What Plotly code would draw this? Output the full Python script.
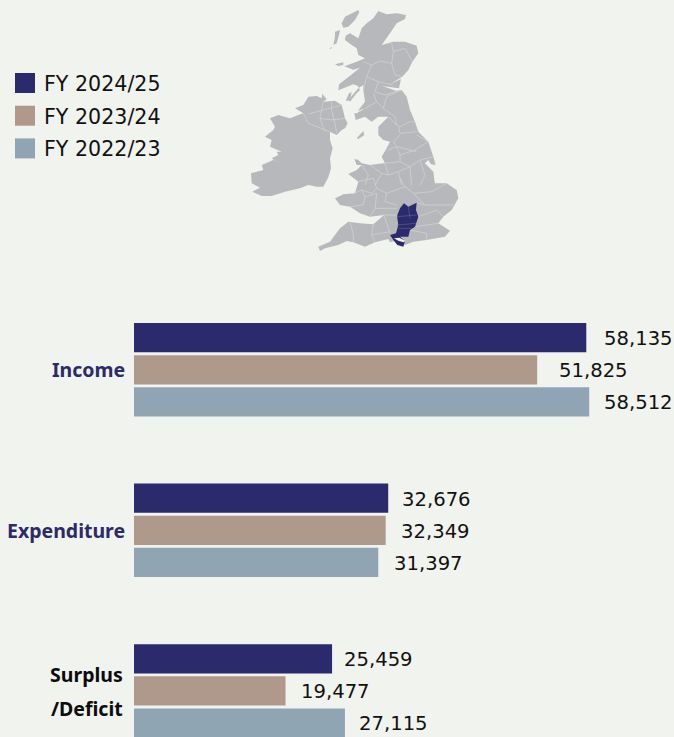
import plotly.graph_objects as go

# ---- data ----
CATEGORIES = ["Income", "Expenditure", "Surplus /Deficit"]
SERIES_NAMES = ["FY 2024/25", "FY 2023/24", "FY 2022/23"]
FY2425 = [58135, 32676, 25459]
FY2324 = [51825, 32349, 19477]
FY2223 = [58512, 31397, 27115]
SERIES_VALUES = [FY2425, FY2324, FY2223]

# ---- style ----
COLORS = ["#2b2a6c", "#ae998b", "#90a5b3"]
BG = "#f1f3ee"
MAP_GREY = "#b7b8bb"
MAP_LINE = "#d3d4d6"
W, H = 674, 737
VAL_FONT = "DejaVu Sans"
CAT_FONT = "Noto Sans"

# label offsets from bar end (px), one per series per category
LABEL_GAPS = [[16, 12, 10], [20, 13, 13], [13, 14, 12]]


# ---- decorative map outlines, traced in separate crop frames ----
def fa(pts):  # northern Scotland frame
    return [(325 + x / 3, 5 + y / 3) for x, y in pts]
def fb(pts):  # northern England frame
    return [(345 + x / 3, 85 + y / 3) for x, y in pts]
def fc(pts):  # Ireland frame
    return [(245 + x / 3, 90 + y / 3) for x, y in pts]
def fd(pts):  # southern Britain frame
    return [(310 + x / 3, 165 + y / 3) for x, y in pts]


IRELAND = fc([(150,55),(175,45),(190,20),(215,18),(230,25),(232,12),(245,28),(235,35),(270,32),(290,45),(300,85),(308,100),(300,115),(290,120),(275,135),(255,125),(255,150),(263,175),(255,205),(258,235),(250,262),(235,290),(215,290),(190,285),(165,295),(120,305),(80,318),(50,318),(22,305),(45,293),(20,280),(18,250),(55,240),(50,225),(85,210),(115,220),(90,212),(80,205),(100,195),(95,185),(110,185),(75,170),(80,150),(60,140),(85,120),(90,110),(75,85),(100,75),(135,85),(160,75),(175,70)])
BRITAIN = (
    fa([(160,18),(185,28),(215,25),(243,30),(240,42),(215,55),(195,85),(170,120),(205,110),(240,110),(275,122),(280,145),(262,170),(250,195),(232,215),(195,238),(228,222),(222,250),(172,243),(215,258)])
    + fb([(170,15),(185,35),(195,75),(210,110),(220,140),(250,170),(265,215),(272,240),(258,238),(250,225),(240,235),(265,260),(268,285)])
    + fd([(375,55),(410,55),(440,75),(445,100),(425,135),(400,155),(385,175),(420,197),(405,215),(350,225),(310,230),(285,240),(265,225),(240,232),(235,222),(195,232),(165,245),(130,232),(110,228),(85,240),(45,250),(30,258),(25,245),(60,230),(90,190),(115,170),(150,175),(190,178),(222,150),(180,155),(150,145),(120,125),(90,120),(75,100),(100,88),(135,85),(145,50),(115,27),(140,15)])
    + fb([(50,240),(35,240),(28,222),(40,225),(50,235),(75,240),(115,235),(120,235),(110,215),(125,190),(135,170),(115,165),(100,150),(100,125),(130,95),(100,95),(80,110),(60,95),(32,105),(28,85),(35,85),(60,70),(38,78),(60,50),(55,15)])
    + fa([(115,240),(100,250),(70,285),(75,290),(95,265),(105,255),(98,242),(85,238),(40,256),(42,238),(75,212),(105,188),(85,194),(58,184),(95,170),(120,160),(100,150),(95,130),(80,120),(60,105),(62,92),(75,85),(100,100),(105,85),(110,70),(125,55),(145,40)])
)
ISLANDS = [
    fa([(50,55),(60,35),(100,15),(103,22),(90,45),(70,65),(55,68)]),
    fa([(25,120),(30,95),(30,80),(45,75),(42,90),(35,115)]),
    fa([(12,133),(20,125),(20,130)]),
    fa([(30,178),(55,172),(55,180),(40,183)]),
    fb([(35,160),(55,138),(58,150),(40,162)]),
    fb([(2,48),(12,25),(20,22),(15,45)]),
]
NAVY_AREA = fd([(262,150),(270,130),(282,115),(295,125),(320,113),(318,135),(325,155),(315,185),(300,195),(295,215),(270,215),(285,228),(280,245),(262,240),(250,225),(240,210),(258,205),(265,180),(262,160)])
SOTON_WATER = fd([(252,220),(268,218),(287,228),(280,232),(265,227)])
NAVY_LINES = [fd(l) for l in [[(262,155),(320,150)],[(262,180),(318,175)],[(295,125),(300,160)],[(265,190),(305,190)]]]
COUNTY_LINES = (
    [fa(l) for l in [
        [(115,170),(140,180),(165,168),(200,175),(205,140),(200,115)],
        [(205,140),(240,130),(262,170)],[(200,175),(210,210),(230,215)],
        [(140,180),(125,215),(160,230),(205,240)],[(125,215),(115,255)],
        [(160,230),(150,260),(180,270),(225,255)],
    ]]
    + [fb(l) for l in [
        [(85,25),(95,50),(60,70)],[(95,50),(115,70),(125,35),(170,15)],[(115,70),(150,95),(155,120),(130,95)],
        [(155,120),(165,125),(195,110),(210,110)],[(160,125),(165,145),(215,140)],
        [(165,150),(145,170),(155,185),(215,200)],[(215,150),(250,170)],
        [(130,195),(155,185),(165,210),(210,195),(250,170)],[(165,210),(165,230),(120,235)],
        [(165,230),(195,245),(225,225),(265,215)],[(195,245),(200,300)],[(225,225),(240,270),(225,300)],
        [(120,235),(130,270),(160,260),(195,245)],[(130,270),(110,265),(75,240)],[(160,260),(170,300)],
        [(110,265),(90,300)],[(50,240),(70,270),(60,300)],
    ]]
    + [fc(l) for l in [
        [(175,70),(190,100),(240,120),(255,125)],[(235,35),(225,85),(240,125)],[(190,72),(235,60),(290,45)],
        [(225,85),(260,90),(300,85)],[(260,60),(270,100),(275,130)],[(260,35),(260,60)],
    ]]
    + [fd(l) for l in [
        [(130,85),(155,75),(165,95),(160,120),(120,125)],[(155,75),(185,85),(200,70),(190,40),(145,50)],
        [(200,70),(230,85),(225,110),(260,120)],[(230,85),(285,65),(270,40)],[(165,95),(200,85)],
        [(200,85),(195,130),(260,130)],[(195,130),(180,155)],[(215,150),(260,150)],
        [(285,65),(310,85),(365,80),(410,55)],[(310,85),(345,120),(430,120)],[(345,120),(320,113)],
        [(325,155),(380,135),(400,155)],[(315,185),(385,175)],[(300,195),(350,205),(350,225)],
        [(120,170),(130,210),(130,232)],[(190,178),(185,210),(195,232)],[(185,210),(240,200)],[(222,150),(240,205)],
    ]]
)


def path(points, closed=True):
    """SVG path in paper coordinates from pixel coordinates."""
    d = "M" + "L".join(f"{x / W:.5f},{1 - y / H:.5f}" for x, y in points)
    return d + ("Z" if closed else "")


shapes = []
for poly in [IRELAND, BRITAIN] + ISLANDS:
    shapes.append(dict(type="path", xref="paper", yref="paper", path=path(poly),
                       fillcolor=MAP_GREY, line=dict(width=0)))
for ln in COUNTY_LINES:
    shapes.append(dict(type="path", xref="paper", yref="paper", path=path(ln, False),
                       line=dict(color=MAP_LINE, width=0.7)))
shapes.append(dict(type="path", xref="paper", yref="paper", path=path(NAVY_AREA),
                   fillcolor=COLORS[0], line=dict(width=0)))
for ln in NAVY_LINES:
    shapes.append(dict(type="path", xref="paper", yref="paper", path=path(ln, False),
                       line=dict(color="#5c5b92", width=0.7)))
shapes.append(dict(type="path", xref="paper", yref="paper", path=path(SOTON_WATER),
                   fillcolor=BG, line=dict(width=0)))

fig = go.Figure()
for name, vals, col in zip(SERIES_NAMES, SERIES_VALUES, COLORS):
    fig.add_bar(name=name, y=CATEGORIES, x=vals, orientation="h",
                marker=dict(color=col, line=dict(width=0)), showlegend=False,
                hoverinfo="x+y")

annotations = []
# value labels
for s, (vals, gaps) in enumerate(zip(SERIES_VALUES, LABEL_GAPS)):
    for c, v in enumerate(vals):
        annotations.append(dict(x=v, y=c, xref="x", yref="y", text=f"{v:,}", showarrow=False,
                                xanchor="left", yanchor="middle", xshift=gaps[c], yshift=(1 - s) * 32 - 1,
                                font=dict(family=VAL_FONT, size=19.6, color="#111111")))
# category labels
CAT_COLORS = [COLORS[0], COLORS[0], "#0c0c0c"]
for c, cat in enumerate(CATEGORIES):
    parts = cat.split(" ")
    for i, p in enumerate(parts):
        shift = 0 if len(parts) == 1 else (16.5 - 34 * i)
        right = 127 if len(parts) == 1 else 124.5
        annotations.append(dict(x=right / W, y=c, xref="paper", yref="y",
                                text=f"<b>{p}</b>", showarrow=False, xanchor="right", yanchor="middle",
                                yshift=shift,
                                font=dict(family=CAT_FONT, size=19.5, color=CAT_COLORS[c])))
# legend
for i, (name, col) in enumerate(zip(SERIES_NAMES, COLORS)):
    top = 73 + i * 32.7
    shapes.append(dict(type="rect", xref="paper", yref="paper", x0=15 / W, x1=35 / W,
                       y0=1 - top / H, y1=1 - (top + 20) / H, fillcolor=col, line=dict(width=0)))
    annotations.append(dict(x=44 / W, y=1 - (top + 10) / H, xref="paper", yref="paper", text=name,
                            showarrow=False, xanchor="left", yanchor="middle", xshift=-2, yshift=-1,
                            font=dict(family=VAL_FONT, size=20.6, color="#111111")))

fig.update_layout(
    width=W, height=H, autosize=False, margin=dict(l=0, r=0, t=0, b=0, pad=0),
    paper_bgcolor=BG, plot_bgcolor=BG, barmode="group", bargap=0.4, bargroupgap=0.09,
    shapes=shapes, annotations=annotations, showlegend=False,
    xaxis=dict(domain=[134 / W, 1], range=[0, 540 / 0.00778], visible=False),
    yaxis=dict(domain=[0, 448 / H], range=[2.287, -0.503], type="category", showticklabels=False,
               showgrid=False, zeroline=False, showline=False, ticks=""),
)
fig.write_html("out.html", config={"displayModeBar": False},
               post_script="document.body.style.margin='0';document.body.style.background='%s';document.body.style.overflow='hidden';" % BG)
